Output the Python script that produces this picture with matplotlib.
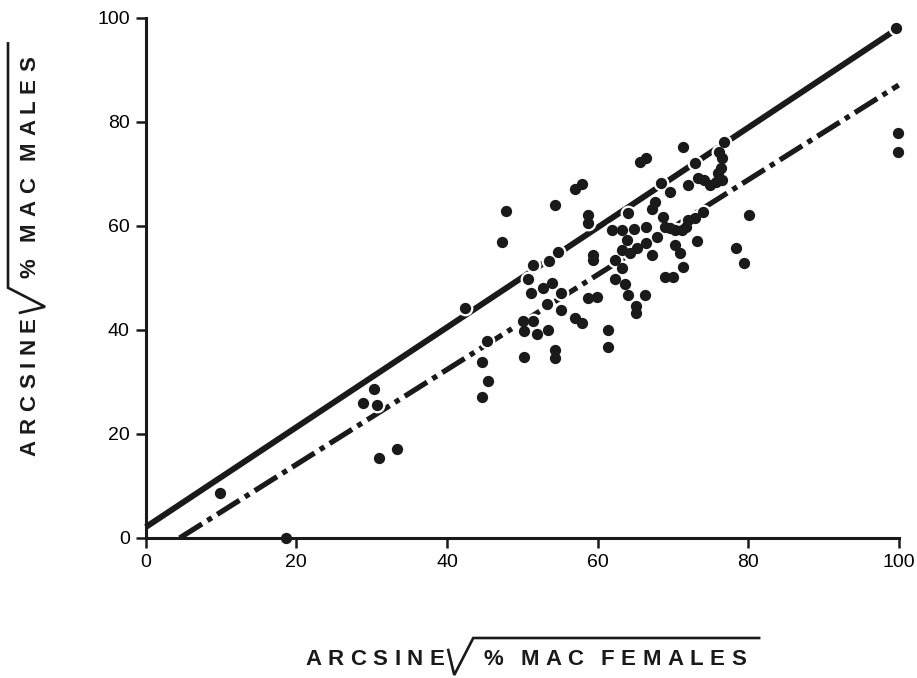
import matplotlib.pyplot as plt
from matplotlib.lines import Line2D
from matplotlib.transforms import IdentityTransform
import numpy as np

plt.rcParams['font.family'] = ['Liberation Sans', 'DejaVu Sans']

# arcsine sqrt % MAC, females (x) vs males (y)
females = [9.8, 18.6, 28.8, 30.3, 30.7, 31.0, 33.3, 42.4, 44.6, 44.6, 45.3, 45.4,
           47.3, 47.9, 54.3, 58.8, 58.8, 57.0, 58.0, 65.6, 66.5, 71.3, 73.0,
           76.8, 76.2, 76.5, 76.4, 76.5,
           68.4, 69.6, 72.0, 73.3, 74.2, 74.9, 75.8, 76.0,
           64.0, 67.6, 67.2, 68.7,
           74.0, 72.9, 72.0, 71.8, 71.2, 70.3, 69.6, 68.9,
           61.9, 63.3, 64.9, 66.5, 63.9, 67.9, 73.2,
           66.5, 65.3, 64.3, 63.2, 67.2, 70.3, 71.0, 71.3,
           62.3, 63.2, 62.3, 63.7, 64.0, 66.3, 68.9, 70.0,
           54.7, 51.4, 53.5, 59.4, 59.4, 50.7, 51.1, 52.7, 53.9, 55.2, 53.3, 55.2,
           57.0, 58.0, 58.7, 59.9, 50.1, 51.4, 50.3, 51.9, 53.4,
           50.2, 54.4, 54.4, 61.4, 61.4, 65.1, 65.1,
           80.1, 78.4, 79.5, 99.6, 99.9, 99.9]
males = [8.7, 0.0, 26.0, 28.6, 25.6, 15.4, 17.1, 44.2, 33.8, 27.1, 37.9, 30.2,
         56.9, 62.9, 64.0, 62.1, 60.6, 67.1, 68.1, 72.3, 73.1, 75.2, 72.1,
         76.2, 74.2, 73.1, 71.2, 68.8,
         68.3, 66.5, 67.9, 69.2, 68.8, 67.9, 68.5, 70.2,
         62.5, 64.6, 63.3, 61.7,
         62.7, 61.5, 61.2, 59.8, 59.2, 59.2, 59.6, 59.8,
         59.2, 59.2, 59.4, 59.8, 57.3, 57.9, 57.1,
         56.7, 55.8, 54.8, 55.4, 54.4, 56.3, 54.8, 52.1,
         53.5, 51.9, 49.8, 48.8, 46.7, 46.7, 50.2, 50.2,
         55.0, 52.5, 53.3, 54.4, 53.5, 49.8, 47.1, 48.1, 49.0, 47.1, 45.0, 43.8,
         42.3, 41.3, 46.2, 46.3, 41.7, 41.7, 39.8, 39.2, 40.0,
         34.8, 36.2, 34.6, 40.0, 36.7, 44.6, 43.3,
         62.1, 55.8, 52.9, 98.1, 77.9, 74.2]

# the two fitted lines (end points)
line1_x = [0, 100]
line1_y = [2.1, 98.1]
line2_x = [4.5, 100]
line2_y = [0, 87.1]

INK = '#1a1a1a'
LABEL_SIZE = 16
TRACK = 6.5      # px between letters
WORD_GAP = 17    # px between words

fig = plt.figure(figsize=(9.17, 6.78), dpi=100)
ax = fig.add_axes([0.159, 0.2065, 0.821, 0.767])
renderer = fig.canvas.get_renderer()

ax.plot(line1_x, line1_y, color=INK, lw=4.3, solid_capstyle='butt',
        clip_on=False, zorder=2)
ax.plot(line2_x, line2_y, color=INK, lw=3.8, dashes=(5.0, 1.2, 1.0, 1.2),
        dash_capstyle='butt', clip_on=False, zorder=2)

# white halo so the lines break around the dots, as in the original
ax.scatter(females, males, s=130, color='white', linewidths=0, clip_on=False, zorder=3)
ax.scatter(females, males, s=66, color=INK, linewidths=0, clip_on=False, zorder=4)

ax.set_xlim(0, 100)
ax.set_ylim(0, 100)
ax.set_xticks(np.arange(0, 101, 20))
ax.set_yticks(np.arange(0, 101, 20))
ax.tick_params(direction='out', length=7.5, width=1.8, labelsize=14, pad=4, color=INK)
for side in ['top', 'right']:
    ax.spines[side].set_visible(False)
for side in ['left', 'bottom']:
    ax.spines[side].set_linewidth(2.2)
    ax.spines[side].set_color(INK)
    ax.spines[side].set_zorder(3.5)


def put_word(word, base, pos, vertical):
    # letter-spaced word, returns the end position along the text direction
    for ch in word:
        if vertical:
            t = fig.text(base, pos, ch, rotation=90, rotation_mode='anchor',
                         ha='left', va='baseline', fontsize=LABEL_SIZE,
                         weight='bold', color=INK, transform=IdentityTransform())
            size = t.get_window_extent(renderer).height
        else:
            t = fig.text(pos, base, ch, ha='left', va='baseline',
                         fontsize=LABEL_SIZE, weight='bold', color=INK,
                         transform=IdentityTransform())
            size = t.get_window_extent(renderer).width
        pos += size + TRACK
    return pos - TRACK


def radical_label(head, rest, base, start, vertical):
    # "ARCSINE" followed by a hand drawn square root over the rest
    end = put_word(head, base, start, vertical)
    pos = end + 39
    words = rest.split()
    for i, w in enumerate(words):
        pos = put_word(w, base, pos, vertical)
        if i < len(words) - 1:
            pos += WORD_GAP
    along = [end + 4, end + 10, end + 29, pos + 13]
    across = [base + 15, base - 10, base + 27, base + 27]
    if vertical:
        xs = [base - (a - base) for a in across]
        ys = along
    else:
        xs, ys = along, across
    fig.add_artist(Line2D(xs, ys, color=INK, lw=1.9, solid_joinstyle='miter',
                          transform=IdentityTransform()))


H = fig.get_figheight() * fig.dpi
radical_label('ARCSINE', '% MAC FEMALES', H - 665, 305, vertical=False)
radical_label('ARCSINE', '% MAC MALES', 35, H - 456, vertical=True)

fig.savefig('out.png', dpi=100)
